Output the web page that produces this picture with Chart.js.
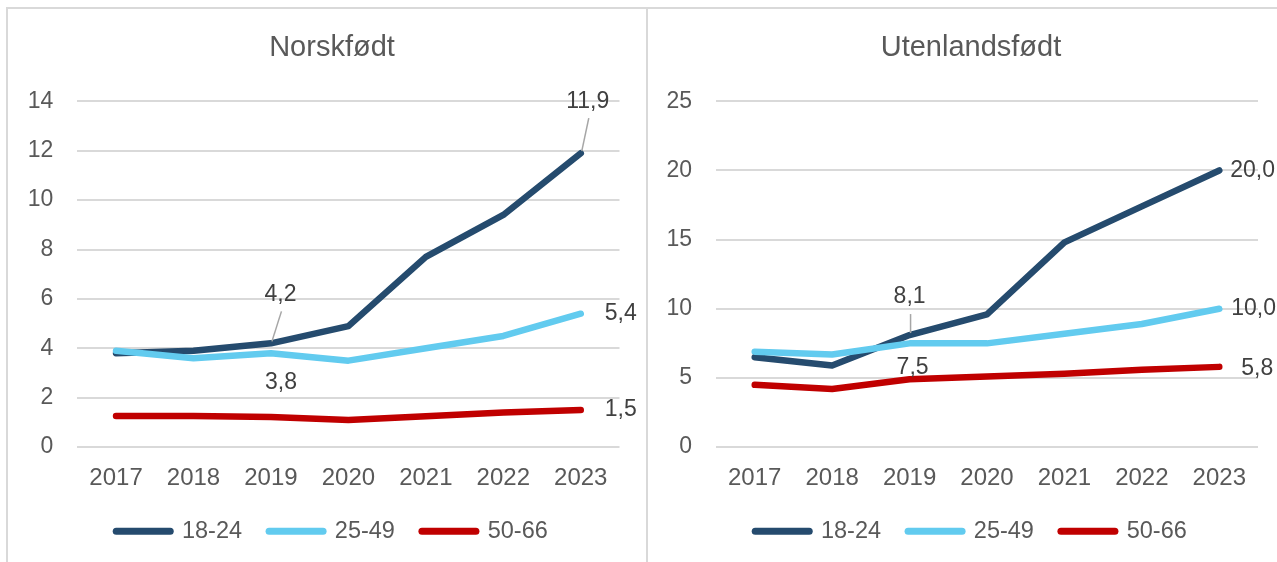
<!DOCTYPE html>
<html lang="no">
<head>
<meta charset="utf-8">
<title>Norskfødt og utenlandsfødt etter alder</title>
<script src="https://cdn.jsdelivr.net/npm/chart.js@4.4.1/dist/chart.umd.min.js"></script>
<style>
  body {
    margin: 0;
    width: 1277px;
    height: 562px;
    position: relative;
    overflow: hidden;
    background: #fff;
  }
  .panel {
    position: absolute;
    top: 7px;
    height: 600px;
    box-sizing: border-box;
    border: 2px solid #d9d9d9;
    background: #fff;
  }
  #panel-left { left: 6px; width: 642px; }
  #panel-right { left: 646px; width: 700px; }
  canvas { position: absolute; top: 9px; }
  #norsk { left: 8px; }
  #utenlands { left: 649px; }
</style>
</head>
<body>
<div class="panel" id="panel-left"></div>
<div class="panel" id="panel-right"></div>
<canvas id="norsk" width="638" height="553"></canvas>
<canvas id="utenlands" width="636" height="553"></canvas>

<script>
// data
const years = ['2017', '2018', '2019', '2020', '2021', '2022', '2023'];
const ageGroups = ['18-24', '25-49', '50-66'];

const norsk1824 = [3.8, 3.9, 4.2, 4.9, 7.7, 9.4, 11.9];
const norsk2549 = [3.9, 3.6, 3.8, 3.5, 4.0, 4.5, 5.4];
const norsk5066 = [1.26, 1.26, 1.22, 1.1, 1.25, 1.4, 1.5];

const utenl1824 = [6.5, 5.9, 8.1, 9.6, 14.8, 17.4, 20.0];
const utenl2549 = [6.9, 6.7, 7.5, 7.5, 8.2, 8.9, 10.0];
const utenl5066 = [4.5, 4.2, 4.9, 5.1, 5.3, 5.6, 5.8];

const norskTicks = { max: 14, step: 2 };
const utenlTicks = { max: 25, step: 5 };

// which points get a value label, and where it sits relative to the point
const norskLabels = [
  { series: 0, index: 6, dx: 7, dy: -52, leader: true },
  { series: 0, index: 2, dx: 9.5, dy: -49, leader: true },
  { series: 1, index: 2, dx: 10, dy: 29 },
  { series: 1, index: 6, dx: 24, dy: 0, align: 'left' },
  { series: 2, index: 6, dx: 24, dy: 0, align: 'left' }
];
const utenlLabels = [
  { series: 0, index: 6, dx: 11, dy: 0, align: 'left' },
  { series: 0, index: 2, dx: 0, dy: -38, leader: true },
  { series: 1, index: 2, dx: 3, dy: 24.5 },
  { series: 1, index: 6, dx: 12, dy: 0, align: 'left' },
  { series: 2, index: 6, dx: 22, dy: 2, align: 'left' }
];

const colors = ['#254b6e', '#62cbef', '#c00000'];
const FONT = '"Liberation Sans", Arial, sans-serif';
const GREY = '#595959';

Chart.defaults.font.family = FONT;
Chart.defaults.color = GREY;

// draws "11,9"-style labels, with a thin leader line when asked
function valueLabelPlugin(items) {
  return {
    id: 'valueLabels',
    afterDatasetsDraw(chart) {
      const ctx = chart.ctx;
      ctx.save();
      ctx.font = '23px ' + FONT;
      ctx.textBaseline = 'middle';
      items.forEach(item => {
        const pt = chart.getDatasetMeta(item.series).data[item.index];
        const value = chart.data.datasets[item.series].data[item.index];
        const x = pt.x + item.dx;
        const y = pt.y + item.dy;
        if (item.leader) {
          ctx.strokeStyle = '#a6a6a6';
          ctx.lineWidth = 1.5;
          ctx.beginPath();
          ctx.moveTo(x + 1, y + 17);
          ctx.lineTo(pt.x + 1, pt.y - 2);
          ctx.stroke();
        }
        ctx.fillStyle = '#404040';
        ctx.textAlign = item.align || 'center';
        ctx.fillText(value.toFixed(1).replace('.', ','), x, y);
      });
      ctx.restore();
    }
  };
}

// layout: left padding, y-axis width, empty space kept right of the plot
function makeChart(id, title, series, ticks, labels, layout) {
  const datasets = series.map((values, i) => ({
    label: ageGroups[i],
    data: values,
    yAxisID: 'y',
    borderColor: colors[i],
    backgroundColor: colors[i],
    borderWidth: 6.5,
    borderCapStyle: 'round',
    borderJoinStyle: 'round',
    tension: 0,
    pointRadius: 0,
    pointHoverRadius: 0,
    pointStyle: 'line',
    // later age groups are painted on top
    order: series.length - i
  }));

  return new Chart(document.getElementById(id), {
    type: 'line',
    data: { labels: years, datasets },
    options: {
      responsive: false,
      animation: false,
      devicePixelRatio: 1,
      layout: { padding: { left: layout.padLeft, right: 0, top: 0, bottom: 9 } },
      plugins: {
        title: {
          display: true,
          text: title,
          color: GREY,
          font: { size: 29, weight: 'normal' },
          padding: { top: 22, bottom: 35.5 }
        },
        legend: {
          position: 'bottom',
          labels: {
            usePointStyle: true,
            pointStyleWidth: 54,
            padding: 27,
            color: GREY,
            font: { size: 23.5 },
            sort: (a, b) => a.datasetIndex - b.datasetIndex,
            generateLabels(chart) {
              return Chart.defaults.plugins.legend.labels.generateLabels(chart).map(item => {
                const ds = chart.data.datasets[item.datasetIndex];
                return Object.assign(item, {
                  strokeStyle: ds.borderColor,
                  fillStyle: ds.borderColor,
                  lineWidth: 7,
                  lineCap: 'round',
                  pointStyle: 'line'
                });
              });
            }
          }
        },
        tooltip: { enabled: false }
      },
      scales: {
        x: {
          offset: true,
          grid: { display: false, drawTicks: false },
          border: { display: false },
          ticks: {
            padding: 16.6,
            color: GREY,
            font: { size: 24 },
            maxRotation: 0,
            autoSkip: false
          },
          afterFit(scale) { scale.height = 45.4; }
        },
        y: {
          min: 0,
          max: ticks.max,
          grid: { color: '#d9d9d9', lineWidth: 2, drawTicks: false },
          border: { display: false },
          ticks: {
            stepSize: ticks.step,
            padding: 24,
            color: GREY,
            font: { size: 23 }
          },
          afterFit(scale) { scale.width = layout.yWidth; }
        },
        // blank strip on the right, room for the end-of-line labels
        gutter: {
          axis: 'y',
          position: 'right',
          grid: { display: false, drawTicks: false },
          border: { display: false },
          ticks: { display: false },
          afterFit(scale) { scale.width = layout.gutter; }
        }
      }
    },
    plugins: [valueLabelPlugin(labels)]
  });
}

makeChart('norsk', 'Norskfødt', [norsk1824, norsk2549, norsk5066], norskTicks, norskLabels,
  { padLeft: 10, yWidth: 59.3, gutter: 26.5 });
makeChart('utenlands', 'Utenlandsfødt', [utenl1824, utenl2549, utenl5066], utenlTicks, utenlLabels,
  { padLeft: 8, yWidth: 59, gutter: 27 });
</script>
</body>
</html>
